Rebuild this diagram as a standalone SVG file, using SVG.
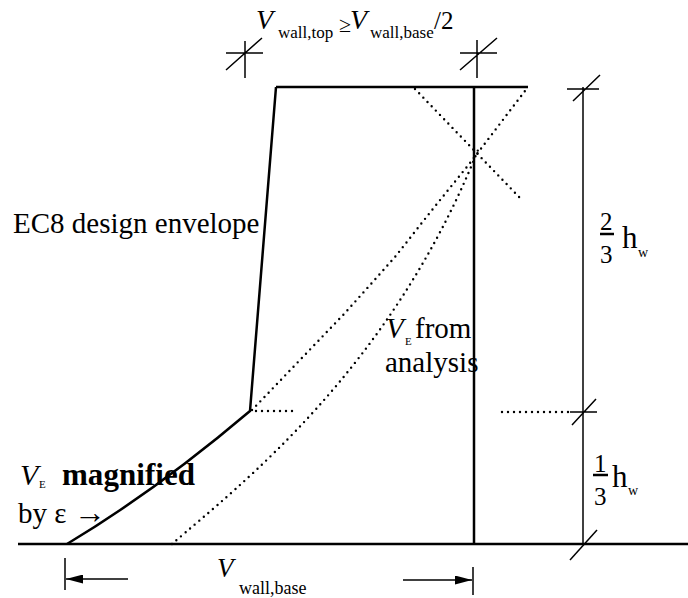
<svg xmlns="http://www.w3.org/2000/svg" width="688" height="598" viewBox="0 0 688 598">
<style>
.s{fill:none;stroke:#000;stroke-width:2.5}
.t{fill:none;stroke:#000;stroke-width:1.5}
.d{fill:none;stroke:#000;stroke-width:2.4;stroke-dasharray:0 6;stroke-linecap:round}
text{font-family:"Liberation Serif","Times New Roman",serif;fill:#000}
.i{font-style:italic}
</style>
<defs>
<marker id="ah" viewBox="0 0 17 9" refX="17" refY="4.5" markerWidth="17" markerHeight="9" markerUnits="userSpaceOnUse" orient="auto">
<path d="M0,0 L17,4.5 L0,9 Z" fill="#000"/>
</marker>
</defs>
<rect width="688" height="598" fill="#fff"/>
<g id="connectors">
<path class="s" d="M276,87 L250,411 Q157,490 67,544"/>
<path class="s" d="M276,87 L528,87"/>
<path class="s" d="M474,87 L474,544"/>
<path class="s" stroke-width="3" d="M18,544 L688,544"/>
<path class="t" d="M583,87 L583,544"/>
<path class="d" d="M252,410 L345,313 L395,257 L432,210 L470,163 L528,87"/>
<path class="d" d="M172,544 C240,485 390,370 478,150"/>
<path class="d" d="M415,89 L521,199"/>
<path class="d" d="M256,411 L296,411"/>
<path class="d" d="M502,412 L573,412"/>
</g>
<g id="ticks">
<path class="t" d="M567,89 L599,89 M573,101 L600,75"/>
<path class="t" d="M570,412 L597,412 M572,425 L596,399"/>
<path class="t" d="M570,560 L597,530"/>
<path class="t" d="M226,53 L263,53 M245,41 L245,78 M226,70 L262,38"/>
<path class="t" d="M460,53 L497,53 M477,40 L477,78 M460,70 L497,38"/>
<path class="t" d="M65,558 L65,590 M473,567 L473,595"/>
<path class="t" d="M128,579 L66,579" marker-end="url(#ah)"/>
<path class="t" d="M403,580 L472,580" marker-end="url(#ah)"/>
</g>
<g id="label-top">
<text class="i" x="256" y="29" font-size="28">V</text>
<text x="278" y="38" font-size="17">wall,top</text>
<text x="339" y="32" font-size="22">≥</text>
<text class="i" x="350" y="29" font-size="28">V</text>
<text x="370" y="38" font-size="17">wall,base</text>
<text x="434" y="29" font-size="25">/2</text>
</g>
<g id="label-ec8">
<text x="13" y="233" font-size="29">EC8 design envelope</text>
</g>
<g id="label-analysis">
<text class="i" x="386" y="338" font-size="29">V</text>
<text x="405" y="345" font-size="11">E</text>
<text x="415" y="338" font-size="29">from</text>
<text x="385" y="372" font-size="29">analysis</text>
</g>
<g id="label-magnified">
<text class="i" x="20" y="485" font-size="30">V</text>
<text x="39" y="488" font-size="11">E</text>
<text x="62" y="485" font-size="31" font-weight="bold" textLength="133">magnified</text>
<text x="18" y="523" font-size="29">by ε <tspan font-size="32">→</tspan></text>
</g>
<g id="label-23">
<text x="600" y="230" font-size="25">2</text>
<path d="M600,234 L614,234" stroke="#000" stroke-width="2.5"/>
<text x="600" y="263" font-size="25">3</text>
<text x="622" y="248" font-size="31">h</text>
<text x="638" y="257" font-size="14">w</text>
</g>
<g id="label-13">
<text x="594" y="472" font-size="25">1</text>
<path d="M593,475 L608,475" stroke="#000" stroke-width="2.5"/>
<text x="594" y="505" font-size="25">3</text>
<text x="612" y="487" font-size="31">h</text>
<text x="628" y="495" font-size="14">w</text>
</g>
<g id="label-base">
<text class="i" x="217" y="577" font-size="27">V</text>
<text x="239" y="594" font-size="18">wall,base</text>
</g>
</svg>
